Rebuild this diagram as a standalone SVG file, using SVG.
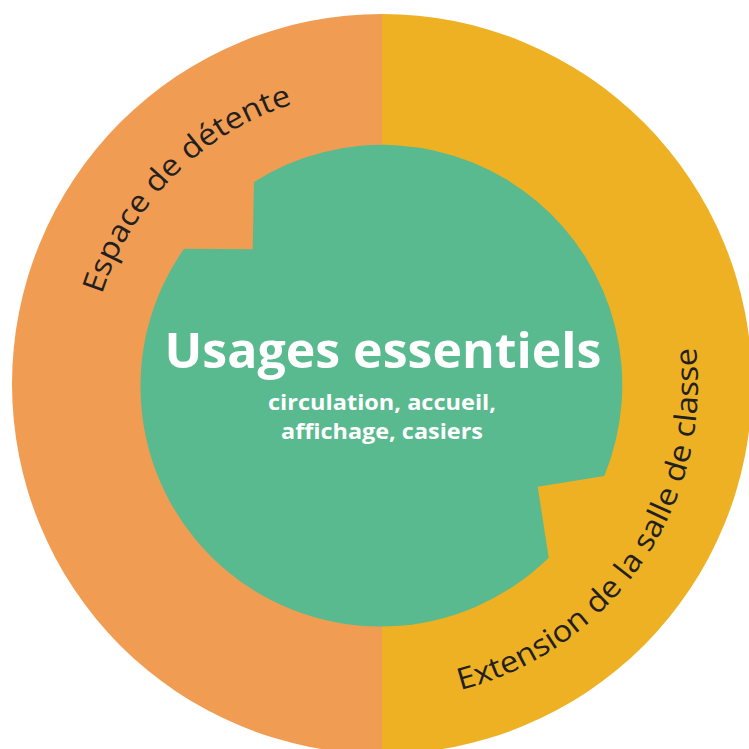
<svg xmlns="http://www.w3.org/2000/svg" xmlns:xlink="http://www.w3.org/1999/xlink" width="749" height="749" viewBox="0 0 749 749">
<style>
.ring{font-family:"Open Sans","Liberation Sans",sans-serif;font-size:30px;font-weight:500;fill:#231f20;}
.title{font-family:"Open Sans","Liberation Sans",sans-serif;font-weight:700;fill:#ffffff;text-anchor:middle;}
</style>
<defs>
<path id="arcL" d="M88,384 A294,294 0 0 1 382,90"/>
<path id="arcR" d="M382,700 A316,316 0 0 0 677,270.8"/>
</defs>
<rect width="749" height="749" fill="#ffffff"/>
<g id="espace-detente">
<path d="M382,14 A370,370 0 0 0 382,754 Z" fill="#f09d53"/>
<text class="ring"><textPath xlink:href="#arcL" href="#arcL" startOffset="50%" text-anchor="middle" textLength="280" lengthAdjust="spacingAndGlyphs">Espace de détente</textPath></text>
</g>
<g id="extension-salle">
<path d="M382,14 A370,370 0 0 1 382,754 Z" fill="#edb123"/>
<text class="ring"><textPath xlink:href="#arcR" href="#arcR" startOffset="50%" text-anchor="middle" textLength="454" lengthAdjust="spacingAndGlyphs">Extension de la salle de classe</textPath></text>
</g>
<g id="usages-essentiels">
<path d="M254,182 A240,240 0 0 1 604.3,476 L537.7,486.7 L548.7,557.7 A240,240 0 0 1 184,248.7 L252.7,249.3 Z" fill="#59b98f"/>
<text class="title" x="383" y="368" font-size="48" font-weight="800" textLength="437" lengthAdjust="spacingAndGlyphs">Usages essentiels</text>
<text class="title" x="382" y="410" font-size="21" font-weight="600" textLength="228" lengthAdjust="spacingAndGlyphs">circulation, accueil,</text>
<text class="title" x="382" y="439" font-size="21" font-weight="600" textLength="202" lengthAdjust="spacingAndGlyphs">affichage, casiers</text>
</g>
</svg>
